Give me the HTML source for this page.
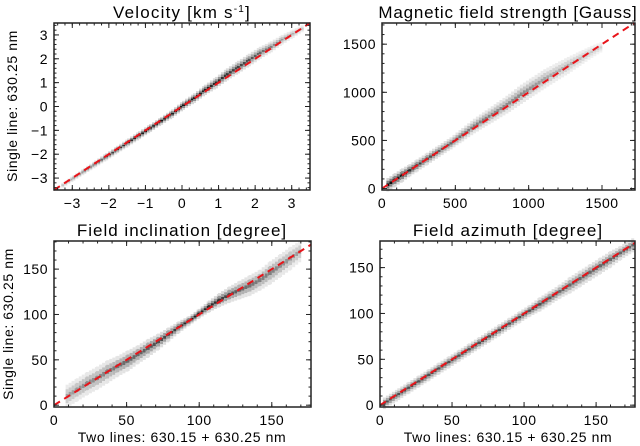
<!DOCTYPE html>
<html><head><meta charset="utf-8"><style>
html,body{margin:0;padding:0;background:#fff;}
svg{display:block;font-family:"Liberation Sans",sans-serif;}
</style></head><body>
<svg id="fig" width="640" height="446" viewBox="0 0 640 446">
<text x="182" y="18" text-anchor="middle" font-size="17" letter-spacing="1.2">Velocity [km s<tspan dy="-6" font-size="10">-1</tspan><tspan dy="6">]</tspan></text>
<text x="508" y="18" text-anchor="middle" font-size="17" letter-spacing="0.8">Magnetic field strength [Gauss]</text>
<text x="182" y="236" text-anchor="middle" font-size="17" letter-spacing="1">Field inclination [degree]</text>
<text x="508" y="236" text-anchor="middle" font-size="17" letter-spacing="1">Field azimuth [degree]</text>
<text transform="translate(17,106) rotate(-90)" text-anchor="middle" font-size="14" letter-spacing="0.6">Single line: 630.25 nm</text>
<text transform="translate(13,324) rotate(-90)" text-anchor="middle" font-size="14" letter-spacing="0.6">Single line: 630.25 nm</text>
<text x="182" y="442" text-anchor="middle" font-size="14" letter-spacing="0.6">Two lines: 630.15 + 630.25 nm</text>
<text x="508" y="442" text-anchor="middle" font-size="14" letter-spacing="0.6">Two lines: 630.15 + 630.25 nm</text>
</svg>
<script>
// Density ridge data: x bin centers, y centers, spread (y units), darkness (0..1)
const velX = [-3.3,-3,-2.7,-2.4,-2.1,-1.8,-1.5,-1.2,-0.9,-0.6,-0.3,0,0.3,0.6,0.9,1.2,1.5,1.8,2.1,2.4,2.7,3,3.3];
const velY = [-3.3,-3,-2.7,-2.4,-2.1,-1.8,-1.5,-1.2,-0.9,-0.6,-0.3,0.05,0.35,0.7,1.0,1.35,1.65,1.95,2.25,2.5,2.8,3.05,3.3];
const velS = [0.04,0.05,0.06,0.07,0.08,0.08,0.09,0.09,0.09,0.09,0.1,0.11,0.12,0.13,0.15,0.16,0.17,0.17,0.16,0.14,0.12,0.1,0.07];
const velD = [0.3,0.4,0.5,0.6,0.7,0.8,0.85,0.9,0.95,0.95,0.9,0.95,0.9,0.9,0.85,0.8,0.75,0.7,0.6,0.5,0.4,0.3,0.2];
const bX = [30,80,130,180,230,300,380,460,540,620,700,780,860,940,1020,1100,1180,1260,1340,1420,1500];
const bY = [40,90,140,190,240,310,390,470,560,650,730,810,890,980,1060,1140,1210,1280,1350,1420,1480];
const bS = [45,45,45,40,40,40,40,40,45,50,55,60,65,70,70,70,65,60,50,40,30];
const bD = [1,0.95,0.9,0.85,0.8,0.7,0.65,0.6,0.55,0.5,0.5,0.45,0.45,0.45,0.4,0.35,0.3,0.3,0.25,0.2,0.15];
const iX = [8,15,22,29,36,43,50,57,64,71,78,85,92,99,106,113,120,127,134,141,148,155,162,169];
const iY = [10,17,24,30,37,43,49,56,63,70,78,86,93,101,109,116,122,127,132,138,146,154,162,170];
const iS = [9,9,9,9,9,8,8,7,7,6,5,4,3,3,4,5,6,7,8,8,9,9,9,8];
const iD = [0.35,0.4,0.45,0.45,0.5,0.55,0.6,0.6,0.65,0.7,0.75,0.8,0.9,0.9,0.85,0.8,0.7,0.6,0.55,0.5,0.5,0.45,0.4,0.35];
const aX = [2,12,19,26,33,40,47,54,61,68,75,82,89,96,103,110,117,124,131,138,145,152,159,166,176];
const aY = [2,12,19,26,33,40,47,54,61,68,75,82,89,96,103,110,117,124,131,138,145,152,159,166,176];
const aS = [4,4,4,4,4,4,4,4,4,4,4,4,4,4,4,5,5,5,6,6,6,6,6,5,5];
const aD = [0.7,0.7,0.7,0.7,0.7,0.7,0.7,0.7,0.7,0.7,0.7,0.7,0.7,0.7,0.7,0.7,0.65,0.6,0.6,0.6,0.6,0.6,0.6,0.6,0.6];
const velTicks = [-3,-2,-1,0,1,2,3];
const bTicks = [0,500,1000,1500];
const angTicks = [0,50,100,150];

const NS='http://www.w3.org/2000/svg';
const svg=document.getElementById('fig');
function mk(t,a,p){const e=document.createElementNS(NS,t);for(const k in a)e.setAttribute(k,a[k]);(p||svg).appendChild(e);return e;}

function panel(o){
  const g=mk('g',{});
  
  
  const sx=v=>o.x0+(v-o.xmin)/(o.xmax-o.xmin)*(o.x1-o.x0);
  const sy=v=>o.y1-(v-o.ymin)/(o.ymax-o.ymin)*(o.y1-o.y0);
  const hg=mk('g',{},g);
  
  
  const cw=3;
  for(let i=0;i<o.xs.length-1;i++){
    const xa=sx(o.xs[i]), xb=sx(o.xs[i+1]);
    for(let px=xa;px<xb;px+=cw){
      const f=(px-xa)/(xb-xa);
      const yc=o.ys[i]+(o.ys[i+1]-o.ys[i])*f;
      const s=o.ss[i]+(o.ss[i+1]-o.ss[i])*f;
      const d=o.ds[i]+(o.ds[i+1]-o.ds[i])*f;
      const pyc=sy(yc), ps=Math.abs(sy(0)-sy(s))+1;
      for(let k=-2;k<=2;k++){
        const w=k===0?1:(Math.abs(k)===1?0.5:0.15);
        const dd=d*w;
        const c=Math.round(248-dd*240);
        const r=mk('rect',{x:px.toFixed(1),y:(pyc+k*ps*0.5-ps*0.25).toFixed(1),width:cw,height:(ps*0.5).toFixed(1),fill:`rgb(${c},${c},${c})`},hg);
        
        
      }
    }
  }
  const dl=mk('line',{x1:sx(o.dmin),y1:sy(o.dmin),x2:sx(o.dmax),y2:sy(o.dmax),stroke:'#e8141a','stroke-width':2,'stroke-dasharray':'7,5'},g);
  
  
  const fr=mk('rect',{x:o.x0,y:o.y0,width:o.x1-o.x0,height:o.y1-o.y0,fill:'none',stroke:'#222','stroke-width':1.5},g);
  
  
  for(let v=Math.ceil(o.xmin/o.xminor)*o.xminor; v<=o.xmax; v+=o.xminor){
    const X=sx(v);
    mk('line',{x1:X,y1:o.y1,x2:X,y2:o.y1-2.5,stroke:'#222'},g);
    mk('line',{x1:X,y1:o.y0,x2:X,y2:o.y0+2.5,stroke:'#222'},g);
  }
  for(let v=Math.ceil(o.ymin/o.yminor)*o.yminor; v<=o.ymax; v+=o.yminor){
    const Y=sy(v);
    mk('line',{x1:o.x0,y1:Y,x2:o.x0+2.5,y2:Y,stroke:'#222'},g);
    mk('line',{x1:o.x1,y1:Y,x2:o.x1-2.5,y2:Y,stroke:'#222'},g);
  }
  o.ticks.forEach(v=>{
    const X=sx(v),Y=sy(v);
    mk('line',{x1:X,y1:o.y1,x2:X,y2:o.y1-5,stroke:'#222'},g);
    mk('line',{x1:X,y1:o.y0,x2:X,y2:o.y0+5,stroke:'#222'},g);
    mk('line',{x1:o.x0,y1:Y,x2:o.x0+5,y2:Y,stroke:'#222'},g);
    mk('line',{x1:o.x1,y1:Y,x2:o.x1-5,y2:Y,stroke:'#222'},g);
    const lab=String(v).replace('-','\u2212');
    const tx=mk('text',{x:X,y:o.y1+18,'text-anchor':'middle','font-size':14,'letter-spacing':0.5},g);
    tx.textContent=lab;
    
    
    const ty=mk('text',{x:o.x0-6,y:Y+5,'text-anchor':'end','font-size':14,'letter-spacing':0.5},g);
    ty.textContent=lab;
    
    
  });
}
panel({name:'velocity-panel',x0:54,x1:310,y0:23,y1:190,xmin:-3.5,xmax:3.5,ymin:-3.5,ymax:3.5,xs:velX,ys:velY,ss:velS,ds:velD,ticks:velTicks,xminor:0.2,yminor:0.2,dmin:-3.5,dmax:3.5});
panel({name:'field-strength-panel',x0:382,x1:635,y0:23,y1:190,xmin:0,xmax:1725,ymin:-15,ymax:1720,xs:bX,ys:bY,ss:bS,ds:bD,ticks:bTicks,xminor:100,yminor:100,dmin:0,dmax:1720});
panel({name:'inclination-panel',x0:54,x1:311,y0:241,y1:407,xmin:0,xmax:177,ymin:-2,ymax:181,xs:iX,ys:iY,ss:iS,ds:iD,ticks:angTicks,xminor:10,yminor:10,dmin:0,dmax:177});
panel({name:'azimuth-panel',x0:380,x1:635,y0:241,y1:407,xmin:0,xmax:177,ymin:-2,ymax:179,xs:aX,ys:aY,ss:aS,ds:aD,ticks:angTicks,xminor:10,yminor:10,dmin:0,dmax:177});
</script>
</body></html>
